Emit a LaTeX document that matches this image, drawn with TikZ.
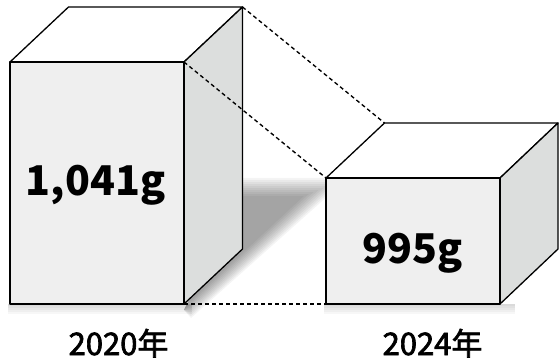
\documentclass[tikz,border=0pt]{standalone}
\usepackage{fontspec}
\usepackage{xcolor}
\usepackage{tikz}
\usetikzlibrary{calc}
\newfontfamily\jp{Noto Sans CJK JP}
\newfontfamily\jpmid[FakeBold=2.2]{Noto Sans CJK JP}
\definecolor{FrontFace}{HTML}{EFEFEF}
\definecolor{SideFace}{HTML}{DCDEDD}
\tikzset{face/.style={draw=black, line width=1.3pt, line join=round},
  guide/.style={draw=black, line width=1.35pt, dash pattern=on 4pt off 3pt},
  weight/.style={inner sep=0pt, anchor=base, font=\jp\bfseries\fontsize{41}{45}\selectfont},
  year/.style={inner sep=0pt, anchor=base, font=\jpmid\fontsize{31}{34}\selectfont}}

\begin{document}
\begin{tikzpicture}[x=1pt,y=-1pt]%
\useasboundingbox (0,0) rectangle (559,358);%
% box corners
\coordinate (L-ftl) at (10,62);%
\coordinate (L-ftr) at (184,62);%
\coordinate (L-fbr) at (184,304);%
\coordinate (L-btl) at (68.5,7);%
\coordinate (L-btr) at (242.5,7);%
\coordinate (L-bbr) at (242.5,249);%
\coordinate (R-ftl) at (326,178);%
\coordinate (R-ftr) at (500,178);%
\coordinate (R-fbl) at (326,304);%
\coordinate (R-fbr) at (500,304);%
\coordinate (R-btl) at (384.5,123);%
\coordinate (R-btr) at (558,123);%
\coordinate (R-bbr) at (558,249);%
% cast shadow
\coordinate (sa) at (243,178);%
\coordinate (sb) at (348,178);%
\coordinate (sc) at (191,318);%
\coordinate (ia) at (243,198);%
\coordinate (ib) at (299,198);%
\coordinate (ic) at (190,300);%
\foreach \t in {0,0.1,...,1.0} {%
  \fill[black, opacity=0.045] ($(sa)!\t!(ia)$) -- ($(sb)!\t!(ib)$) -- ($(sc)!\t!(ic)$) -- (184,310) -- cycle;%
}%
\foreach \d in {2,4,...,10} {%
  \fill[black, opacity=0.03] (8,304) rectangle (192,304+\d);%
  \fill[black, opacity=0.03] (324,304) rectangle (515,304+\d);%
}%
% left box
\filldraw[face, fill=white] (L-ftl) -- (L-btl) -- (L-btr) -- (L-ftr) -- cycle;%
\filldraw[face, fill=SideFace] (L-ftr) -- (L-btr) -- (L-bbr) -- (L-fbr) -- cycle;%
\filldraw[face, fill=FrontFace] (L-ftl) rectangle (L-fbr);%
% right box
\filldraw[face, fill=white] (R-ftl) -- (R-btl) -- (R-btr) -- (R-ftr) -- cycle;%
\filldraw[face, fill=SideFace] (R-ftr) -- (R-btr) -- (R-bbr) -- (R-fbr) -- cycle;%
\filldraw[face, fill=FrontFace] (R-ftl) rectangle (R-fbr);%
% guide lines
\draw[guide] (L-btr) -- (R-btl);%
\draw[guide] (L-ftr) -- (R-ftl);%
\draw[guide] (L-fbr) -- (R-fbl);%
% labels
\node[weight] (w2020) at (95.5,196) {1,041g};%
\node[weight] (w2024) at (412.5,263) {995g};%
\node[year] (y2020) at (118.5,355) {2020年};%
\node[year] (y2024) at (432.5,355) {2024年};%
\end{tikzpicture}
\end{document}
